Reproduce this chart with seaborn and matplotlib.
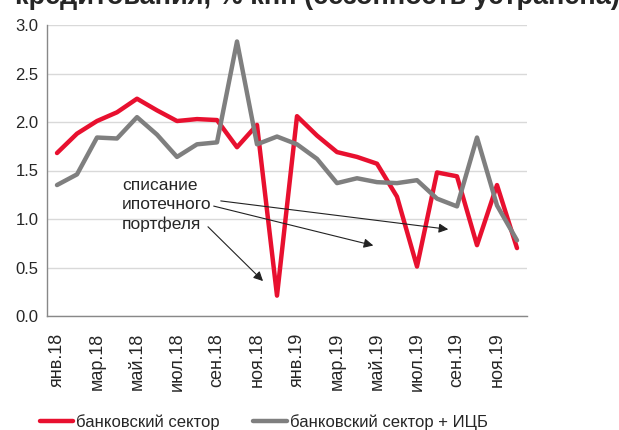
import numpy as np
import pandas as pd
import matplotlib
matplotlib.use("Agg")
import matplotlib.pyplot as plt
import seaborn as sns

# ------------------------------
# Data
# ------------------------------
months = ["янв.18", "фев.18", "мар.18", "апр.18", "май.18", "июн.18",
          "июл.18", "авг.18", "сен.18", "окт.18", "ноя.18", "дек.18",
          "янв.19", "фев.19", "мар.19", "апр.19", "май.19", "июн.19",
          "июл.19", "авг.19", "сен.19", "окт.19", "ноя.19", "дек.19"]
bank_sector = [1.68, 1.88, 2.01, 2.10, 2.24, 2.12, 2.01, 2.03, 2.02, 1.74, 1.97, 0.21,
               2.06, 1.86, 1.69, 1.64, 1.57, 1.23, 0.51, 1.48, 1.44, 0.73, 1.35, 0.70]
bank_sector_icb = [1.35, 1.46, 1.84, 1.83, 2.05, 1.87, 1.64, 1.77, 1.79, 2.83, 1.77, 1.85,
                   1.77, 1.62, 1.37, 1.42, 1.38, 1.37, 1.40, 1.21, 1.13, 1.84, 1.14, 0.78]
series_names = ["банковский сектор", "банковский сектор + ИЦБ"]
title_text = "кредитования, % кнп (сезонность устранена)"
note_text = "списание\nипотечного\nпортфеля"

df = pd.DataFrame({
    "idx": list(range(len(months))) * 2,
    "value": bank_sector + bank_sector_icb,
    "series": [series_names[0]] * len(months) + [series_names[1]] * len(months),
})

# ------------------------------
# Style
# ------------------------------
sns.set_style("white")
plt.rcParams["font.family"] = ["Liberation Sans", "DejaVu Sans"]

fig = plt.figure(figsize=(6.19, 4.30), dpi=100)
ax = fig.add_axes([47 / 619, 1 - 316 / 430, 480 / 619, 291 / 430])

palette = {series_names[0]: "#E8102F", series_names[1]: "#7F7F7F"}
sns.lineplot(data=df, x="idx", y="value", hue="series", palette=palette,
             linewidth=3.2, ax=ax, legend=False, sort=False)

ax.set_xlim(-0.5, len(months) - 0.5)
ax.set_ylim(0, 3.0)
ax.set_yticks(np.arange(0, 3.01, 0.5))
ax.set_yticklabels([f"{v:.1f}" for v in np.arange(0, 3.01, 0.5)], fontsize=12)
ax.yaxis.grid(True, color="#D9D9D9", linewidth=1)
ax.set_axisbelow(True)

# category boundaries every 2 months, labels on odd months
ax.set_xticks(np.arange(-0.5, len(months), 2))
ax.set_xticklabels([])
ax.set_xticks(np.arange(0, len(months), 2), minor=True)
ax.set_xticklabels(months[::2], minor=True, rotation=90, fontsize=13)
ax.tick_params(axis="x", which="major", length=5, color="#888888", direction="out")
ax.tick_params(axis="x", which="minor", length=0, pad=12)
ax.tick_params(axis="y", length=4, color="#888888", direction="out", pad=2)

for s in ["top", "right"]:
    ax.spines[s].set_visible(False)
for s in ["left", "bottom"]:
    ax.spines[s].set_color("#888888")
    ax.spines[s].set_linewidth(1)
ax.set_xlabel("")
ax.set_ylabel("")

# ------------------------------
# Annotation
# ------------------------------
ax.text(3.25, 1.42, note_text, fontsize=12.5, va="top", ha="left", linespacing=1.35)
arrow = dict(arrowstyle="-|>", color="#222222", lw=0.8, mutation_scale=14)
ax.annotate("", xy=(19.7, 0.89), xytext=(8.05, 1.19), arrowprops=arrow)
ax.annotate("", xy=(15.95, 0.72), xytext=(7.7, 1.14), arrowprops=arrow)
ax.annotate("", xy=(10.4, 0.34), xytext=(7.45, 0.94), arrowprops=arrow)

# ------------------------------
# Title (cut off at the top) and legend
# ------------------------------
fig.text(0.512, 1 - 4 / 430, title_text, ha="center", va="baseline",
         fontsize=19.5, fontweight="bold")

handles = [plt.Line2D([], [], color=palette[n], linewidth=3.2) for n in series_names]
fig.legend(handles, series_names, loc="lower left", bbox_to_anchor=(0.04, -0.035),
           ncol=2, frameon=False, fontsize=12, handlelength=2.0, handletextpad=0.2,
           columnspacing=2.0)

fig.savefig("out.png", dpi=100)
